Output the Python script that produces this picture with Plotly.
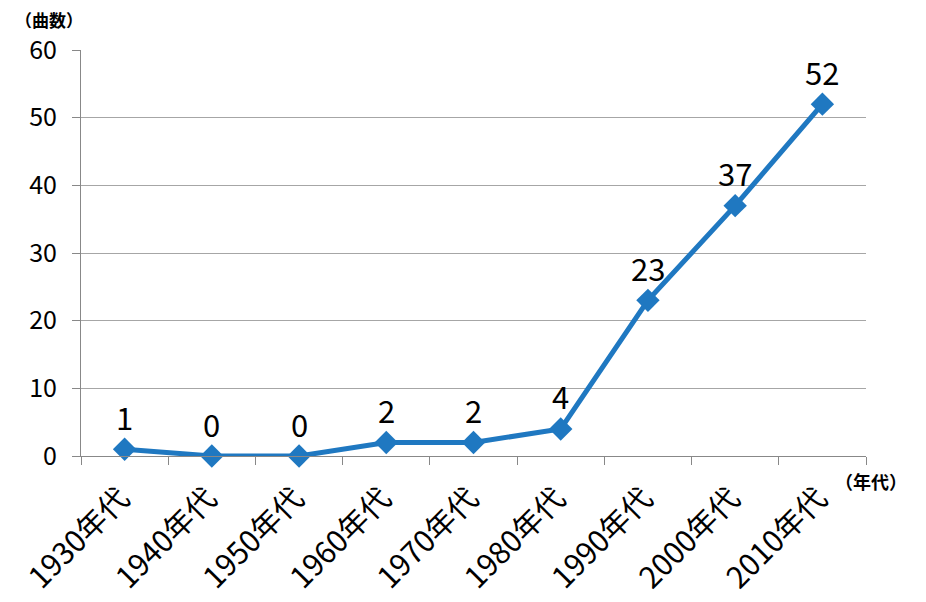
import plotly.graph_objects as go

categories = ["1930年代", "1940年代", "1950年代", "1960年代", "1970年代",
              "1980年代", "1990年代", "2000年代", "2010年代"]
counts = [1, 0, 0, 2, 2, 4, 23, 37, 52]
y_ticks = [0, 10, 20, 30, 40, 50, 60]

FONT = "Noto Sans CJK JP"
BLUE = "#1f78c1"

fig = go.Figure()
fig.add_trace(go.Scatter(
    x=categories, y=counts, mode="lines+markers",
    line=dict(color=BLUE, width=5),
    marker=dict(symbol="diamond", size=18, color=BLUE),
    cliponaxis=False, showlegend=False,
))

for c, v in zip(categories, counts):
    fig.add_annotation(x=c, y=v, text=str(v), showarrow=False,
                       yshift=33, font=dict(family=FONT, size=31, color="black"))

fig.add_annotation(xref="paper", yref="paper", x=-0.086, y=1.0, yshift=31,
                   text="<b>（曲数）</b>", showarrow=False, xanchor="left", yanchor="middle",
                   font=dict(family=FONT, size=17, color="black"))
fig.add_annotation(xref="paper", yref="paper", x=0.958, y=0.0, yshift=-25,
                   text="<b>（年代）</b>", showarrow=False, xanchor="left", yanchor="middle",
                   font=dict(family=FONT, size=18, color="black"))

fig.update_layout(
    width=926, height=602,
    margin=dict(l=73, r=68, t=42, b=154, autoexpand=False),
    paper_bgcolor="white", plot_bgcolor="white",
    font=dict(family=FONT, color="black"),
)
fig.update_xaxes(
    type="category", range=[-0.5, 8.5], automargin=False,
    tickson="boundaries", ticks="outside", ticklen=8, tickcolor="#888888",
    showgrid=False, showline=True, linecolor="#888888", linewidth=1,
    tickangle=-45, tickfont=dict(family=FONT, size=30), ticklabelstandoff=12,
    ticklabelshift=-4,
)
fig.update_yaxes(
    range=[0, 60], tickvals=y_ticks, automargin=False,
    ticks="outside", ticklen=8, tickcolor="#888888",
    showgrid=True, gridcolor="#a6a6a6", gridwidth=1,
    showline=True, linecolor="#888888", linewidth=1,
    zeroline=False, tickfont=dict(family=FONT, size=25), ticklabelstandoff=10,
)

fig.write_html("out.html")
